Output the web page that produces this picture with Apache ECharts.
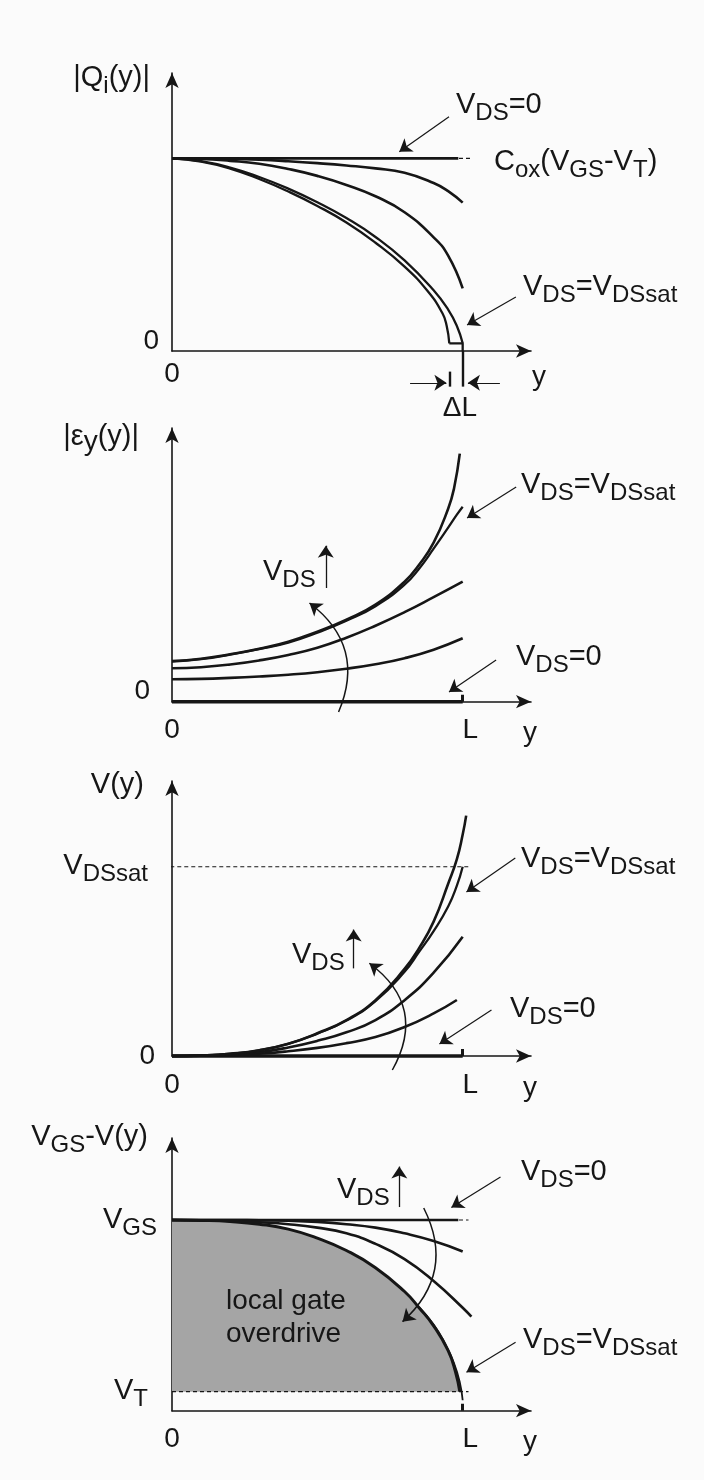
<!DOCTYPE html>
<html>
<head>
<meta charset="utf-8">
<script src="https://cdn.jsdelivr.net/npm/echarts@6/dist/echarts.min.js"></script>
<style>
  html, body { margin: 0; padding: 0; background: #fbfbfb; }
  #c { width: 704px; height: 1480px; }
</style>
</head>
<body>
<div id="c"></div>
<script>
// Position along the channel is normalised to the channel length (L = 1).

// Panel 1: inversion charge |Qi(y)|, normalised to Cox(VGS-VT)
const coxLevel = 1;
const qFlatX = [0, 0.985];
const qFlat = [1, 1];
const qX = [0, 0.1, 0.2, 0.3, 0.4, 0.5, 0.6, 0.7, 0.8, 0.9, 0.95, 1.0];
const qLow = [1, 1, 0.998, 0.993, 0.985, 0.975, 0.963, 0.948, 0.925, 0.872, 0.83, 0.77];
const qMid = [1, 0.997, 0.987, 0.972, 0.945, 0.909, 0.862, 0.803, 0.72, 0.59, 0.495, 0.325];
const qSatX = [0, 0.1, 0.2, 0.3, 0.4, 0.5, 0.6, 0.7, 0.8, 0.9, 0.95, 0.98, 1.0];
const qSat = [1, 0.985, 0.952, 0.903, 0.843, 0.772, 0.69, 0.592, 0.47, 0.315, 0.215, 0.13, 0.04];
const qPinchX = [0, 0.1, 0.2, 0.3, 0.4, 0.5, 0.6, 0.7, 0.8, 0.88, 0.93, 0.945, 0.954];
const qPinch = [1, 0.983, 0.947, 0.893, 0.828, 0.753, 0.667, 0.562, 0.438, 0.31, 0.197, 0.13, 0.04];
const qFootX = [0.954, 1.0, 1.0];
const qFoot = [0.04, 0.04, 0];

// Panel 2: lateral field |Ey(y)|
const eFlatX = [0, 1];
const eFlat = [0, 0];
const eX = [0, 0.1, 0.2, 0.3, 0.4, 0.5, 0.6, 0.7, 0.8, 0.9, 1.0];
const eLow = [0.224, 0.228, 0.238, 0.252, 0.27, 0.295, 0.33, 0.375, 0.435, 0.52, 0.634];
const eMid = [0.334, 0.345, 0.372, 0.413, 0.468, 0.54, 0.64, 0.76, 0.895, 1.045, 1.2];
const eSatX = [0, 0.1, 0.2, 0.3, 0.4, 0.5, 0.6, 0.7, 0.8, 0.85, 0.9, 0.95, 0.98, 1.0];
const eSat = [0.4, 0.425, 0.47, 0.525, 0.59, 0.69, 0.81, 0.955, 1.17, 1.33, 1.53, 1.74, 1.87, 1.95];
const ePostX = [0, 0.1, 0.2, 0.3, 0.4, 0.5, 0.6, 0.7, 0.8, 0.85, 0.9, 0.95, 0.97, 0.99];
const ePost = [0.407, 0.43, 0.475, 0.53, 0.6, 0.7, 0.82, 0.97, 1.2, 1.37, 1.59, 1.93, 2.13, 2.48];

// Panel 3: channel potential V(y), normalised to VDSsat
const vdsSatLevel = 1;
const vFlatX = [0, 1];
const vFlat = [0, 0];
const vLowX = [0, 0.1, 0.2, 0.3, 0.4, 0.5, 0.6, 0.7, 0.8, 0.9, 0.98];
const vLow = [0, 0.001, 0.005, 0.012, 0.025, 0.043, 0.068, 0.1, 0.153, 0.225, 0.296];
const vMidX = [0, 0.1, 0.2, 0.3, 0.4, 0.5, 0.6, 0.7, 0.8, 0.9, 1.0];
const vMid = [0, 0.002, 0.008, 0.02, 0.045, 0.08, 0.125, 0.19, 0.295, 0.44, 0.63];
const vSatX = [0, 0.1, 0.2, 0.3, 0.4, 0.5, 0.6, 0.7, 0.8, 0.85, 0.9, 0.95, 0.98, 1.0];
const vSat = [0, 0.003, 0.012, 0.03, 0.064, 0.118, 0.187, 0.29, 0.445, 0.55, 0.66, 0.79, 0.9, 1.0];
const vPostX = [0, 0.1, 0.2, 0.3, 0.4, 0.5, 0.6, 0.7, 0.8, 0.85, 0.9, 0.95, 0.98, 1.0, 1.012];
const vPost = [0, 0.003, 0.012, 0.03, 0.065, 0.12, 0.19, 0.295, 0.46, 0.57, 0.71, 0.91, 1.04, 1.17, 1.27];

// Panel 4: local gate overdrive VGS - V(y), normalised to VGS
const vgsLevel = 1;
const vtLevel = 0.1;
const gFlatX = [0, 0.985];
const gFlat = [1, 1];
const gX = [0, 0.1, 0.2, 0.3, 0.4, 0.5, 0.6, 0.7, 0.8, 0.9, 1.0];
const gA = [1, 1, 1, 0.998, 0.996, 0.99, 0.978, 0.96, 0.93, 0.89, 0.835];
const gBX = [0, 0.1, 0.2, 0.3, 0.4, 0.5, 0.6, 0.7, 0.8, 0.9, 1.0, 1.03];
const gB = [1, 0.999, 0.995, 0.988, 0.978, 0.96, 0.93, 0.875, 0.795, 0.68, 0.54, 0.493];
const gSatX = [0, 0.1, 0.2, 0.3, 0.4, 0.5, 0.6, 0.7, 0.8, 0.85, 0.9, 0.95, 0.975, 0.99];
const gSat = [1, 0.998, 0.992, 0.978, 0.952, 0.905, 0.84, 0.75, 0.625, 0.54, 0.445, 0.315, 0.205, 0.1];
const gTailX = [0.85, 0.9, 0.94, 0.97, 0.99, 1.0];
const gTail = [0.543, 0.452, 0.35, 0.25, 0.15, 0.055];

// Axis tick labels
const xTickLabels = { 0: '0', 1: 'L' };

const FONT = "'Liberation Sans', Arial, Helvetica, sans-serif";
const INK = '#161616';
const XMAX = 1.235;

const pts = (xs, ys) => xs.map((x, i) => [x, ys[i]]);
const near = (a, b) => Math.abs(a - b) < 1e-6;

// rich styles for option-level text (color) and for graphic text (fill);
// "s" tokens are subscripts pushed down by their top padding
function richSet(key) {
  const c = {}; c[key] = INK;
  const base = (o) => Object.assign({ fontFamily: FONT }, c, o);
  return {
    v: base({ fontSize: 29, lineHeight: 30, verticalAlign: 'top' }),
    s: base({ fontSize: 24, lineHeight: 24, verticalAlign: 'top', padding: [11, 0, 0, 0] }),
    e: base({ fontSize: 28, lineHeight: 28, verticalAlign: 'top', padding: [6, 0, 0, 0] }),
    z: base({ fontSize: 28, padding: [0, 0, 20, 0] }),
    z0: base({ fontSize: 28 }),
    l: base({ fontSize: 28, padding: [0, 0, 0, 15] }),
    w7: { width: 7 }, w9: { width: 9 },
    vt: base({ fontSize: 29, lineHeight: 30, verticalAlign: 'top', padding: [0, 0, 14, 0] }),
    st: base({ fontSize: 24, lineHeight: 24, verticalAlign: 'top', padding: [11, 0, 0, 0] })
  };
}
const RICH_E = richSet('color');
const RICH_G = richSet('fill');

const panels = [
  { top: 73,   bottom: 351,    ymax: 1.443, interval: 1 },
  { top: 428,  bottom: 701.7,  ymax: 2.737, interval: 1 },
  { top: 781,  bottom: 1056,   ymax: 1.453, interval: 1 },
  { top: 1138, bottom: 1410.7, ymax: 1.43,  interval: 0.1 }
];

const axisLine = {
  onZero: true,
  symbol: ['none', 'arrow'],
  symbolSize: [10, 15],
  lineStyle: { color: INK, width: 1.6 }
};

const grids = panels.map(p => ({
  left: 172, width: 359, top: p.top, height: p.bottom - p.top,
  containLabel: false, outerBoundsMode: 'none'
}));

function xAxisFor(i, cfg) {
  return {
    gridIndex: i, type: 'value', min: 0, max: XMAX, interval: 1,
    axisLine,
    axisTick: { show: cfg.tick, customValues: [1], inside: true, length: 7, lineStyle: { color: INK, width: 3 } },
    splitLine: { show: false },
    axisLabel: {
      margin: cfg.margin, fontSize: 28, fontFamily: FONT, color: INK, showMaxLabel: false,
      formatter: v => {
        if (near(v, 0)) return xTickLabels[0];
        if (near(v, 1) && cfg.showL) return '{l|' + xTickLabels[1] + '}';
        return '';
      },
      rich: RICH_E
    },
    name: 'y', nameLocation: 'end', nameGap: cfg.nameGap,
    nameTextStyle: { fontSize: 28, fontFamily: FONT, color: INK, align: 'center', verticalAlign: 'top', padding: [cfg.namePad, 0, 0, 0] }
  };
}

function yAxisFor(i, cfg) {
  return {
    gridIndex: i, type: 'value', min: 0, max: panels[i].ymax, interval: panels[i].interval,
    axisLine,
    axisTick: { show: false },
    splitLine: { show: false },
    axisLabel: { margin: cfg.margin, fontSize: 28, fontFamily: FONT, color: INK, showMaxLabel: false, formatter: cfg.fmt, rich: RICH_E },
    name: cfg.name, nameLocation: 'end', nameGap: cfg.nameGap,
    nameTextStyle: { fontSize: 29, fontFamily: FONT, color: INK, align: 'right', verticalAlign: 'middle', padding: [0, cfg.namePad, 0, 0], rich: RICH_E }
  };
}

const xAxes = [
  xAxisFor(0, { tick: false, showL: false, margin: 9, nameGap: 8, namePad: 12 }),
  xAxisFor(1, { tick: true, showL: true, margin: 15, nameGap: -1, namePad: 18 }),
  xAxisFor(2, { tick: true, showL: true, margin: 15, nameGap: -1, namePad: 18 }),
  xAxisFor(3, { tick: true, showL: true, margin: 15, nameGap: -1, namePad: 18 })
];

const yAxes = [
  yAxisFor(0, { margin: 13, fmt: v => near(v, 0) ? '{z|0}' : '', name: '{v||Q}{s|i}{v|(y)|}', nameGap: -5, namePad: 22 }),
  yAxisFor(1, { margin: 22, fmt: v => near(v, 0) ? '{z|0}' : '', name: '{v||ε}{e|y}{v|(y)|}', nameGap: -9, namePad: 33 }),
  yAxisFor(2, { margin: 17, fmt: v => near(v, 0) ? '{z0|0}' : (near(v, vdsSatLevel) ? '{v|V}{s|DSsat}{w7| }' : ''), name: '{v|V(y)}', nameGap: -4, namePad: 28 }),
  yAxisFor(3, { margin: 15, fmt: v => near(v, vgsLevel) ? '{v|V}{s|GS}' : (near(v, vtLevel) ? '{vt|V}{st|T}{w9| }' : ''), name: '{v|V}{s|GS}{v|-V(y)}', nameGap: 1, namePad: 24 })
];

function curve(i, data, extra) {
  return Object.assign({
    type: 'line', xAxisIndex: i, yAxisIndex: i, data,
    showSymbol: false, symbol: 'none', smooth: 0.5,
    clip: false, silent: true, z: 3,
    lineStyle: { color: INK, width: 2.6 }
  }, extra || {});
}

function refLine(i, data) {
  return curve(i, data, { smooth: false, lineStyle: { color: INK, width: 1.2, type: [4, 3] } });
}

function arrows(i, items, head) {
  return {
    type: 'lines', coordinateSystem: 'cartesian2d', xAxisIndex: i, yAxisIndex: i,
    symbol: head === false ? 'none' : ['none', 'arrow'], symbolSize: 12,
    clip: false, silent: true, z: 4,
    lineStyle: { color: INK, width: 1.2, opacity: 1 },
    data: items.map(it => ({
      coords: it.c,
      lineStyle: { color: INK, opacity: 1, width: it.w || 1.2, curveness: it.k || 0 }
    }))
  };
}

const series = [
  // panel 1
  curve(0, pts(qFlatX, qFlat)),
  refLine(0, [[0, coxLevel], [1.03, coxLevel]]),
  curve(0, pts(qX, qLow)),
  curve(0, pts(qX, qMid)),
  curve(0, pts(qSatX, qSat), { lineStyle: { color: INK, width: 2.3 } }),
  curve(0, pts(qPinchX, qPinch), { lineStyle: { color: INK, width: 2.3 } }),
  curve(0, pts(qFootX, qFoot), { smooth: false, lineStyle: { color: INK, width: 2.3 } }),
  arrows(0, [
    { c: [[0.953, 1.216], [0.782, 1.034]] },
    { c: [[1.183, 0.28], [1.015, 0.135]] },
    { c: [[0.819, -0.165], [0.944, -0.165]] },
    { c: [[1.128, -0.165], [1.018, -0.165]] }
  ]),
  arrows(0, [
    { c: [[0.954, -0.107], [0.954, -0.185]], w: 2.4 },
    { c: [[1.0, 0], [1.0, -0.185]], w: 2.4 }
  ], false),

  // panel 2
  curve(1, pts(eFlatX, eFlat), { lineStyle: { color: INK, width: 3.6 } }),
  curve(1, pts(eX, eLow)),
  curve(1, pts(eX, eMid)),
  curve(1, pts(eSatX, eSat), { lineStyle: { color: INK, width: 2.3 } }),
  curve(1, pts(ePostX, ePost)),
  arrows(1, [
    { c: [[1.184, 2.147], [1.015, 1.837]] },
    { c: [[1.115, 0.417], [0.953, 0.097]] },
    { c: [[0.529, 1.137], [0.529, 1.56]], w: 1.3 },
    { c: [[0.573, -0.103], [0.473, 0.987]], k: -0.39, w: 1.5 }
  ]),

  // panel 3
  curve(2, pts(vFlatX, vFlat), { lineStyle: { color: INK, width: 3.6 } }),
  refLine(2, [[-0.03, vdsSatLevel], [1.02, vdsSatLevel]]),
  curve(2, pts(vLowX, vLow)),
  curve(2, pts(vMidX, vMid)),
  curve(2, pts(vSatX, vSat), { lineStyle: { color: INK, width: 2.3 } }),
  curve(2, pts(vPostX, vPost)),
  arrows(2, [
    { c: [[1.181, 1.046], [1.013, 0.866]] },
    { c: [[1.099, 0.243], [0.92, 0.063]] },
    { c: [[0.625, 0.463], [0.625, 0.668]], w: 1.3 },
    { c: [[0.758, -0.074], [0.679, 0.49]], k: -0.44, w: 1.5 }
  ]),

  // panel 4
  curve(3, pts(gSatX, gSat), {
    z: 2, lineStyle: { color: INK, width: 3 },
    areaStyle: { color: '#a5a5a5', opacity: 1, origin: vtLevel }
  }),
  curve(3, pts(gFlatX, gFlat)),
  refLine(3, [[0, vgsLevel], [1.02, vgsLevel]]),
  refLine(3, [[0, vtLevel], [1.02, vtLevel]]),
  curve(3, pts(gX, gA)),
  curve(3, pts(gBX, gB)),
  curve(3, pts(gTailX, gTail), { lineStyle: { color: INK, width: 1.8 } }),
  arrows(3, [
    { c: [[1.13, 1.225], [0.961, 1.065]] },
    { c: [[1.182, 0.359], [1.013, 0.202]] },
    { c: [[0.782, 1.068], [0.782, 1.28]], w: 1.3 },
    { c: [[0.866, 1.063], [0.793, 0.467]], k: 0.38, w: 1.5 }
  ])
];

function label(x, y, text, extra) {
  return {
    type: 'text', x, y, z: 100, silent: true,
    style: Object.assign({
      text, rich: RICH_G, fill: INK,
      font: '28px ' + FONT, align: 'left', verticalAlign: 'middle'
    }, extra || {})
  };
}

const graphics = [
  // panel 1
  label(456, 105, '{v|V}{s|DS}{v|=0}'),
  label(494, 162, '{v|C}{s|ox}{v|(V}{s|GS}{v|-V}{s|T}{v|)}'),
  label(523, 287, '{v|V}{s|DS}{v|=V}{s|DSsat}'),
  label(460, 408, 'ΔL', { align: 'center' }),
  // panel 2
  label(521, 485, '{v|V}{s|DS}{v|=V}{s|DSsat}'),
  label(263, 572, '{v|V}{s|DS}'),
  label(516, 657, '{v|V}{s|DS}{v|=0}'),
  // panel 3
  label(521, 859, '{v|V}{s|DS}{v|=V}{s|DSsat}'),
  label(292, 955, '{v|V}{s|DS}'),
  label(510, 1009, '{v|V}{s|DS}{v|=0}'),
  // panel 4
  label(521, 1172, '{v|V}{s|DS}{v|=0}'),
  label(337, 1190, '{v|V}{s|DS}'),
  label(226, 1318, 'local gate\noverdrive', { lineHeight: 33 }),
  label(523, 1340, '{v|V}{s|DS}{v|=V}{s|DSsat}')
];

const chart = echarts.init(document.getElementById('c'), null, { renderer: 'canvas', width: 704, height: 1480 });
chart.setOption({
  backgroundColor: '#fbfbfb',
  animation: false,
  textStyle: { fontFamily: FONT },
  grid: grids,
  xAxis: xAxes,
  yAxis: yAxes,
  series,
  graphic: graphics
});
</script>
</body>
</html>
